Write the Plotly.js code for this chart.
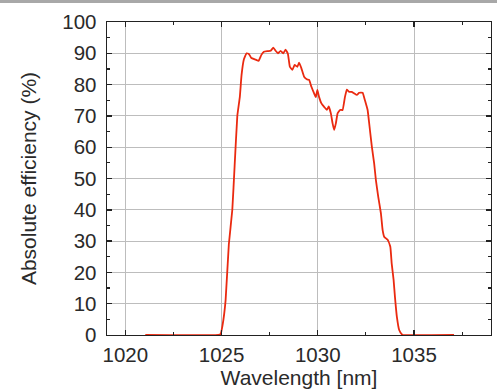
<!DOCTYPE html>
<html><head><meta charset="utf-8">
<script src="https://cdn.plot.ly/plotly-3.0.1.min.js"></script>
<style>
html,body{margin:0;padding:0;background:#fff;overflow:hidden;}
#bar{height:3px;background:#a8a8a8;}
#plot{width:497px;height:387px;}
</style></head>
<body><div id="bar"></div><div id="plot"></div>
<script>
const wavelength = [1021.04,1024.84,1024.95,1025.05,1025.21,1025.38,1025.56,1025.68,1025.82,1025.95,1026.04,1026.16,1026.30,1026.42,1026.55,1026.77,1026.93,1027.07,1027.20,1027.38,1027.55,1027.69,1027.81,1027.93,1028.07,1028.21,1028.33,1028.45,1028.55,1028.68,1028.80,1028.94,1029.03,1029.15,1029.29,1029.43,1029.55,1029.67,1029.81,1029.90,1029.98,1030.07,1030.19,1030.33,1030.47,1030.57,1030.68,1030.77,1030.85,1030.94,1031.03,1031.16,1031.29,1031.41,1031.51,1031.63,1031.76,1031.89,1032.03,1032.15,1032.33,1032.45,1032.59,1032.71,1032.81,1032.93,1033.02,1033.14,1033.28,1033.37,1033.45,1033.63,1033.77,1033.84,1033.94,1034.01,1034.11,1034.23,1034.36,1034.43,1037.08];
const efficiency = [0,0,0.3,3,11,29,40,54,70,76,83,88,90,89.8,88.5,88,87.6,89.5,90.5,90.7,90.8,91.8,90.8,90,90.8,90,91.2,89.8,85.7,84.7,86.3,85.7,87,85.2,82.5,81.7,81.5,79.3,77.2,76,78.3,76,74,72.9,71.9,73,70.8,67.6,65.5,67.6,70.8,71.9,71.9,76,78.4,77.7,77.7,77.2,76.7,77.4,77.4,75,71.9,65.5,60.2,54.8,49.5,44.2,38.9,33.5,31.4,30.4,28.2,22.9,17.6,12.2,5.8,1.6,0.3,0,0];
const xTicks = [1020,1025,1030,1035];
const yTicks = [0,10,20,30,40,50,60,70,80,90,100];

const tickFont = {family:'Liberation Sans, Arial, sans-serif', size:20.5, color:'#2a2a2a'};
const titleFont = {family:'Liberation Sans, Arial, sans-serif', size:21, color:'#2a2a2a'};
const axisCommon = {
  showline:true, linecolor:'#222', linewidth:1.4, mirror:'allticks',
  ticks:'inside', ticklen:5, tickwidth:1.4, tickcolor:'#222',
  showgrid:true, gridcolor:'#bdbdbd', gridwidth:1, zeroline:false,
  tickfont:tickFont
};
Plotly.newPlot('plot', [{
  x: wavelength, y: efficiency, type:'scatter', mode:'lines',
  line:{color:'#ea2a10', width:1.8, shape:'spline', smoothing:0.3},
  hoverinfo:'skip'
}], {
  width:497, height:387,
  margin:{l:107, r:6, t:19, b:55},
  paper_bgcolor:'#fff', plot_bgcolor:'#fff', showlegend:false,
  xaxis: Object.assign({}, axisCommon, {
    range:[1019.05,1039.0], tickmode:'array', tickvals:xTicks, ticktext:xTicks.map(String),
    ticklabelstandoff:1,
    minor:{dtick:2.5, tick0:1020, ticks:'inside', ticklen:3, tickwidth:1.2, tickcolor:'#222', showgrid:false},
    title:{text:'Wavelength [nm]', font:titleFont, standoff:5}
  }),
  yaxis: Object.assign({}, axisCommon, {
    range:[0,100], tickmode:'array', tickvals:yTicks, ticktext:yTicks.map(String),
    ticklabelstandoff:5,
    minor:{dtick:5, tick0:0, ticks:'inside', ticklen:3, tickwidth:1.2, tickcolor:'#222', showgrid:false},
    title:{text:'Absolute efficiency (%)', font:titleFont, standoff:20}
  })
}, {staticPlot:true});
</script></body></html>
